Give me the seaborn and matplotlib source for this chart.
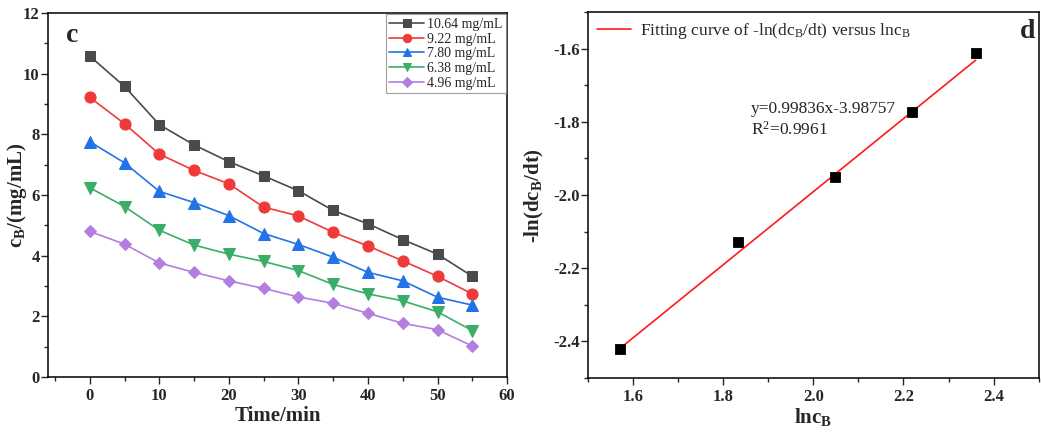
import numpy as np
import pandas as pd
import matplotlib
matplotlib.use("Agg")
import matplotlib.pyplot as plt
import seaborn as sns
from matplotlib.ticker import MultipleLocator

# panel c data
time_min = [0, 5, 10, 15, 20, 25, 30, 35, 40, 45, 50, 55]
c_1064 = [10.58, 9.58, 8.32, 7.65, 7.10, 6.63, 6.14, 5.49, 5.05, 4.53, 4.05, 3.32]
c_922 = [9.22, 8.35, 7.35, 6.81, 6.37, 5.60, 5.31, 4.77, 4.32, 3.83, 3.32, 2.74]
c_780 = [7.76, 7.06, 6.12, 5.75, 5.32, 4.73, 4.37, 3.95, 3.45, 3.17, 2.63, 2.37]
c_638 = [6.24, 5.62, 4.84, 4.35, 4.05, 3.81, 3.51, 3.05, 2.74, 2.51, 2.15, 1.53]
c_496 = [4.80, 4.38, 3.76, 3.45, 3.17, 2.92, 2.64, 2.43, 2.10, 1.77, 1.56, 1.02]
series_labels = ["10.64 mg/mL", "9.22 mg/mL", "7.80 mg/mL", "6.38 mg/mL", "4.96 mg/mL"]

# panel d data
ln_c = [1.570, 1.833, 2.048, 2.220, 2.360]
neg_ln_rate = [-2.420, -2.127, -1.951, -1.772, -1.613]
slope, intercept = 0.99836, -3.98757

sns.set_style("ticks")
plt.rcParams["font.family"] = ["Liberation Serif", "DejaVu Serif"]
plt.rcParams["mathtext.fontset"] = "custom"
plt.rcParams["mathtext.rm"] = "Liberation Serif"
plt.rcParams["mathtext.it"] = "Liberation Serif"
plt.rcParams["mathtext.bf"] = "Liberation Serif:bold"
plt.rcParams["axes.unicode_minus"] = False

fig = plt.figure(figsize=(10.41, 4.32), dpi=100)
ax1 = fig.add_axes([0.0461, 0.1273, 0.441, 0.8426])
ax2 = fig.add_axes([0.5648, 0.125, 0.4330, 0.847])

colors = ["#4a4a4a", "#f03a3a", "#2373e8", "#3aae68", "#b47de0"]
markers = ["s", "o", "^", "v", "D"]
sizes = [7, 8, 8, 8, 6.5]
all_series = [c_1064, c_922, c_780, c_638, c_496]

for vals, lab, col, mk, ms in zip(all_series, series_labels, colors, markers, sizes):
    sns.lineplot(x=time_min, y=vals, ax=ax1, color=col, marker=mk, markersize=ms,
                 markeredgecolor=col, linewidth=1.2, label=lab)

ax1.set_xlim(-6, 60)
ax1.set_ylim(0, 12)
ax1.xaxis.set_major_locator(MultipleLocator(10))
ax1.xaxis.set_minor_locator(MultipleLocator(5))
ax1.yaxis.set_major_locator(MultipleLocator(2))
ax1.yaxis.set_minor_locator(MultipleLocator(1))
ax1.set_xlabel("Time/min", fontsize=15, fontweight="bold", labelpad=1)
ax1.set_ylabel(r"c$_\mathbf{B}$/(mg/mL)", fontsize=15, fontweight="bold")
ax1.yaxis.set_label_coords(-0.041, 0.5)
ax1.text(0.04, 0.92, "c", transform=ax1.transAxes, fontsize=20, fontweight="bold")
leg = ax1.legend(loc="upper right", fontsize=10, frameon=True, fancybox=False,
                 borderaxespad=0.1, handlelength=2.5, labelspacing=0.12,
                 borderpad=0.25, handletextpad=0.2, markerscale=0.75)
leg.get_frame().set_edgecolor("#888888")
leg.get_frame().set_linewidth(0.8)

# panel d
sns.scatterplot(x=ln_c, y=neg_ln_rate, ax=ax2, marker="s", color="black", s=55,
                edgecolor="black", zorder=3)
fit_x = np.array([ln_c[0], ln_c[-1]])
sns.lineplot(x=fit_x, y=slope * fit_x + intercept, ax=ax2, color="#ff1a1a", linewidth=1.2,
             label=r"Fitting curve of -ln(dc$_\mathrm{B}$/dt) versus lnc$_\mathrm{B}$")
ax2.set_xlim(1.5, 2.5)
ax2.set_ylim(-2.5, -1.5)
ax2.xaxis.set_major_locator(MultipleLocator(0.2))
ax2.xaxis.set_minor_locator(MultipleLocator(0.1))
ax2.yaxis.set_major_locator(MultipleLocator(0.2))
ax2.yaxis.set_minor_locator(MultipleLocator(0.1))
ax2.set_xlabel(r"lnc$_\mathbf{B}$", fontsize=15, fontweight="bold", labelpad=1)
ax2.set_ylabel(r"-ln(dc$_\mathbf{B}$/dt)", fontsize=15, fontweight="bold")
ax2.yaxis.set_label_coords(-0.093, 0.5)
ax2.text(0.993, 0.93, "d", transform=ax2.transAxes, fontsize=20, fontweight="bold", ha="right")
ax2.text(0.362, 0.757, "y=0.99836x-3.98757\nR$^2$=0.9961", transform=ax2.transAxes,
         fontsize=12.5, va="top", linespacing=1.25)
ax2.legend(loc="upper left", fontsize=12.5, frameon=False, borderaxespad=0.1,
           handlelength=2.0, handletextpad=0.5)

for ax in (ax1, ax2):
    ax.tick_params(which="major", direction="out", length=5, width=1, labelsize=12, pad=1)
    ax.tick_params(which="minor", direction="out", length=3, width=1)
    ax.tick_params(axis="x", pad=3)
    for lab in ax.get_xticklabels() + ax.get_yticklabels():
        lab.set_fontweight("bold")
    for sp in ax.spines.values():
        sp.set_linewidth(1.1)
        sp.set_color("black")

fig.savefig("out.png", dpi=100)
